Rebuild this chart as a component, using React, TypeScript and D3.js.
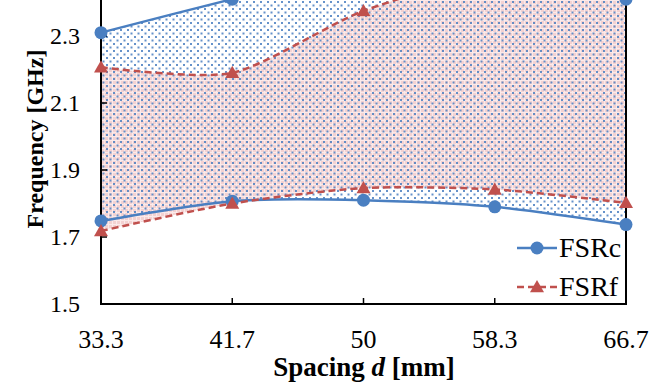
import React from "react";
import * as d3 from "d3";

const categories = ["33.3", "41.7", "50", "58.3", "66.7"];
const fsrcLower = [1.748, 1.807, 1.81, 1.79, 1.737];
const fsrcUpper = [2.31, 2.41, 2.5, 2.52, 2.41];
const fsrfLower = [1.718, 1.8, 1.846, 1.842, 1.802];
const fsrfUpper = [2.207, 2.19, 2.375, 2.48, 2.46];
const yTicks = [1.5, 1.7, 1.9, 2.1, 2.3];

const W = 651;
const H = 382;
const left = 101;
const right = 626;
const bottom = 304;

export default function App() {
  const x = d3.scalePoint<string>().domain(categories).range([left, right]).padding(0);
  const y = d3.scaleLinear().domain([1.5, 2.5]).range([bottom, bottom - 335]);
  const curve = d3.curveCardinal.tension(0.25);

  const band = (lo: number[], hi: number[]) =>
    d3
      .area<number>()
      .x((_, i) => x(categories[i])!)
      .y0((_, i) => y(lo[i]))
      .y1((_, i) => y(hi[i]))
      .curve(curve)(lo)!;

  const line = (vals: number[]) =>
    d3
      .line<number>()
      .x((_, i) => x(categories[i])!)
      .y((v) => y(v))
      .curve(curve)(vals)!;

  const blue = "#4a7fc1";
  const red = "#c0504d";
  const font = "Liberation Serif, Times New Roman, serif";
  const tri = (cx: number, cy: number, s = 7) =>
    `M${cx},${cy - s} L${cx + s},${cy + s * 0.75} L${cx - s},${cy + s * 0.75} Z`;

  return (
    <svg
      width={W}
      height={H}
      style={{ position: "absolute", left: 0, top: 0, background: "#fff", fontFamily: font }}
    >
      <defs>
        <pattern id="pinkPat" width={4} height={4} patternUnits="userSpaceOnUse">
          <rect width={4} height={4} fill="#f3d2d2" />
          <path d="M0,0.5 H4 M0.5,0 V4" stroke="#fbeaea" strokeWidth={1} />
        </pattern>
        <pattern id="blueDots" width={7} height={7} patternUnits="userSpaceOnUse">
          <rect x={1} y={1} width={2} height={2} fill={blue} opacity={0.85} />
          <rect x={4.5} y={4.5} width={2} height={2} fill={blue} opacity={0.85} />
        </pattern>
        <clipPath id="plotClip">
          <rect x={left} y={-40} width={right - left} height={bottom + 40} />
        </clipPath>
      </defs>

      <g clipPath="url(#plotClip)">
        <path d={band(fsrfLower, fsrfUpper)} fill="url(#pinkPat)" />
        <path d={band(fsrcLower, fsrcUpper)} fill="url(#blueDots)" />
      </g>

      {/* axes frame */}
      <line x1={left} x2={left} y1={-40} y2={bottom} stroke="#000" strokeWidth={2} />
      <line x1={right} x2={right} y1={-40} y2={bottom} stroke="#000" strokeWidth={2} />
      <line x1={left - 1} x2={right + 1} y1={bottom} y2={bottom} stroke="#000" strokeWidth={2} />

      {yTicks.map((t) => (
        <g key={t}>
          <line x1={left} x2={left + 6} y1={y(t)} y2={y(t)} stroke="#000" strokeWidth={1.5} />
          <text x={80} y={y(t)} dy="0.33em" textAnchor="end" fontSize={24}>
            {t.toFixed(1)}
          </text>
        </g>
      ))}
      {categories.map((c) => (
        <g key={c}>
          <line x1={x(c)!} x2={x(c)!} y1={bottom} y2={bottom - 6} stroke="#000" strokeWidth={1.5} />
          <text x={x(c)!} y={348} textAnchor="middle" fontSize={26}>
            {c}
          </text>
        </g>
      ))}

      {/* lines */}
      {[fsrcLower, fsrcUpper].map((vals, k) => (
        <path key={"c" + k} d={line(vals)} fill="none" stroke={blue} strokeWidth={2.5} />
      ))}
      {[fsrfLower, fsrfUpper].map((vals, k) => (
        <path
          key={"f" + k}
          d={line(vals)}
          fill="none"
          stroke={red}
          strokeWidth={2.5}
          strokeDasharray="7,4"
        />
      ))}
      {[fsrcLower, fsrcUpper].map((vals, k) =>
        vals.map((v, i) => (
          <circle key={"cm" + k + i} cx={x(categories[i])!} cy={y(v)} r={6.5} fill={blue} />
        ))
      )}
      {[fsrfLower, fsrfUpper].map((vals, k) =>
        vals.map((v, i) => <path key={"fm" + k + i} d={tri(x(categories[i])!, y(v))} fill={red} />)
      )}

      {/* legend */}
      <line x1={517} x2={557} y1={248} y2={248} stroke={blue} strokeWidth={2.5} />
      <circle cx={537} cy={248} r={6.5} fill={blue} />
      <text x={559} y={248} dy="0.33em" fontSize={28}>FSRc</text>
      <line x1={517} x2={557} y1={287} y2={287} stroke={red} strokeWidth={2.5} strokeDasharray="7,4" />
      <path d={tri(537, 287)} fill={red} />
      <text x={559} y={287} dy="0.33em" fontSize={28}>FSRf</text>

      {/* axis titles */}
      <text x={364} y={376} textAnchor="middle" fontSize={27} fontWeight="bold">
        Spacing <tspan fontStyle="italic">d</tspan> [mm]
      </text>
      <text
        transform={`translate(43,139) rotate(-90)`}
        textAnchor="middle"
        fontSize={24}
        fontWeight="bold"
      >
        Frequency [GHz]
      </text>
    </svg>
  );
}
